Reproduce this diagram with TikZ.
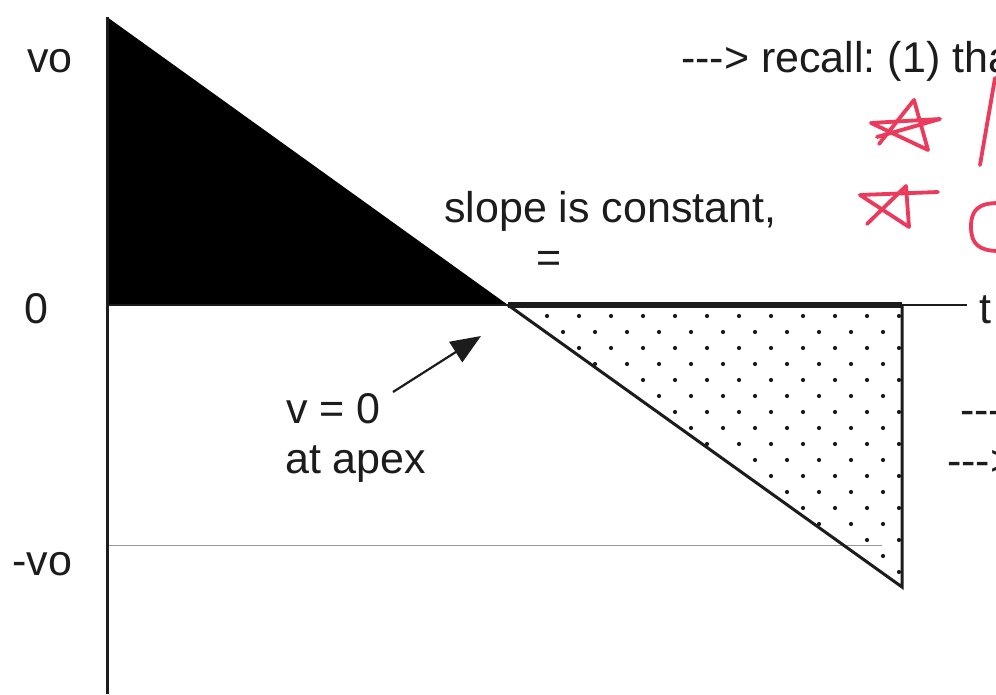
\documentclass[tikz,border=0pt]{standalone}
\usepackage{fontspec}
\setmainfont{Liberation Sans}
\usetikzlibrary{arrows.meta}
\definecolor{ink}{RGB}{28,28,28}
\definecolor{pen}{RGB}{236,58,92}
\definecolor{guide}{RGB}{150,150,150}
\newcommand\mydashes{-\kern0pt-\kern0pt-}
\frenchspacing
\begin{document}
\begin{tikzpicture}[x=1pt,y=-1pt,
  lbl/.style={font=\fontsize{43}{50}\selectfont, text=ink, inner sep=0pt, anchor=base west},
  redink/.style={draw=pen, line width=3.8pt, line cap=round, line join=round},
  axisline/.style={draw=ink, line width=3pt}]
\clip (0,0) rectangle (996,694);
\fill[white] (0,0) rectangle (996,694);
% key points
\coordinate (top) at (107,17);
\coordinate (origin) at (107,305);
\coordinate (axisbot) at (107,694);
\coordinate (apex) at (508,305);
\coordinate (tend) at (902,305);
\coordinate (tline) at (967,305);
\coordinate (bot) at (902,587);
\coordinate (negL) at (107,545);
\coordinate (negR) at (882,545);
% black triangle
\fill[black] (top) -- (origin) -- (apex) -- cycle;
% dotted fill
\begin{scope}
\clip (apex) -- (tend) -- (bot) -- cycle;
\foreach \r in {0,...,17} {
  \pgfmathsetmacro{\yy}{316+16*\r}
  \pgfmathsetmacro{\xo}{mod(\r,2)==0 ? 547 : 563}
  \foreach \k in {-12,...,12} { \fill[ink] (\xo+32*\k,\yy) circle (2.1pt); }
}
\end{scope}
% guide line at -vo
\draw[guide, line width=1pt] (negL) -- (negR);
% axes
\draw[ink, line width=2pt] (origin) -- (tline);
\draw[ink, line width=5.5pt] (apex) -- (tend);
\draw[ink, line width=3pt, line join=miter] (apex) -- (bot) -- (tend);
\draw[axisline] (top) -- (axisbot);
% labels
\node[lbl] (vo) at (27,72) {vo};
\node[lbl] (zero) at (24,323) {0};
\node[lbl] (mvo) at (12,575) {-vo};
\node[lbl] (tlab) at (979,323) {t};
\node[lbl] (slope) at (444,222) {slope is constant,};
\node[lbl, anchor=base] (eq) at (549,272) {=};
\node[lbl] (v0) at (286,423) {v = 0};
\node[lbl] (atapex) at (285,473) {at apex};
\node[lbl] (recall) at (681,72) {\mydashes> recall: (1) tha};
\node[lbl] (dashA) at (960,424) {\mydashes};
\node[lbl] (dashB) at (947,475) {\mydashes>};
% arrow to apex
\coordinate (arrtail) at (393,392);
\coordinate (arrtip) at (481,336);
\draw[ink, line width=2.2pt, -{Triangle[length=30pt,width=24pt]}] (arrtail) -- (arrtip);
% red handwriting
\draw[redink] (879,144) -- (914,100) -- (928,150) -- (871,123) -- (940,119) -- (877,137);
\draw[redink] (867,224) -- (906,186) -- (909,227) -- (860,195) -- (938,192);
\draw[redink] (995,78) -- (980,165);
\draw[redink] (999,203) .. controls (978,203) and (971,210) .. (971,227) .. controls (971,244) and (979,251) .. (999,251);
\end{tikzpicture}
\end{document}
